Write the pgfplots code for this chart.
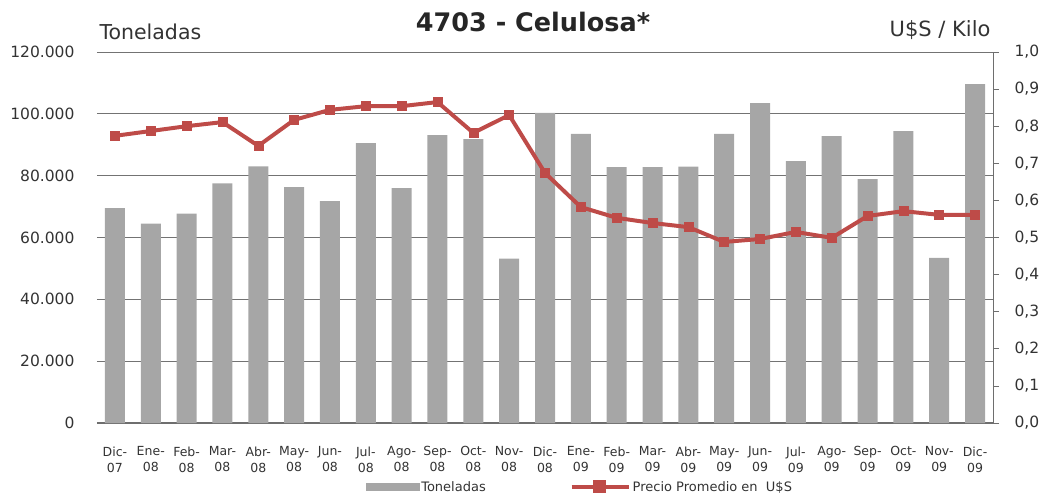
\documentclass[border=0pt]{standalone}
\usepackage{pgfplots}
\pgfplotsset{compat=1.18}
\usepackage{fontspec}
\setmainfont{DejaVu Sans}
\definecolor{barc}{RGB}{166,166,166}
\definecolor{linec}{RGB}{190,75,72}
\definecolor{gridc}{RGB}{115,115,115}
\definecolor{axc}{RGB}{110,110,110}
\begin{document}
\begin{tikzpicture}
\begin{axis}[
  at={(0,0)}, anchor=south west,
  scale only axis, width=896bp, height=371bp,
  xmin=-0.5, xmax=24.5, ymin=0, ymax=120000,
  ybar, bar width=20bp,
  axis x line*=bottom, axis y line*=left,
  x axis line style={draw=axc, line width=1.2pt, -},
  y axis line style={draw=none},
  ytick={0,20000,40000,60000,80000,100000,120000},
  scaled y ticks=false,
  /pgf/number format/assume math mode=true,
  /pgf/number format/fixed,
  /pgf/number format/1000 sep={.},
  ymajorgrids, grid style={draw=gridc, line width=0.9pt},
  major tick length=0pt,
  tick label style={font=\fontsize{15.5bp}{18bp}\selectfont, text=black!80},
  yticklabel style={xshift=-19bp},
  xtick={0,...,24},
  xticklabel style={font=\fontsize{12.5bp}{16bp}\selectfont, align=center, text=black!80, yshift=-20bp},
  xticklabels={{Dic-\\07},{Ene-\\08},{Feb-\\08},{Mar-\\08},{Abr-\\08},{May-\\08},{Jun-\\08},{Jul-\\08},{Ago-\\08},{Sep-\\08},{Oct-\\08},{Nov-\\08},{Dic-\\08},{Ene-\\09},{Feb-\\09},{Mar-\\09},{Abr-\\09},{May-\\09},{Jun-\\09},{Jul-\\09},{Ago-\\09},{Sep-\\09},{Oct-\\09},{Nov-\\09},{Dic-\\09}},
]
\addplot[fill=barc, draw=none] coordinates {
(0,69500) (1,64500) (2,67700) (3,77500) (4,83000) (5,76300) (6,71800) (7,90500) (8,76000) (9,93100) (10,91800) (11,53200) (12,100300) (13,93500) (14,82800) (15,82800) (16,82900) (17,93500) (18,103500) (19,84700) (20,92800) (21,78900) (22,94400) (23,53400) (24,109600)};
\end{axis}
\begin{axis}[
  at={(0,0)}, anchor=south west,
  scale only axis, width=896bp, height=371bp,
  xmin=-0.5, xmax=24.5, ymin=0, ymax=1,
  axis x line=none, axis y line*=right,
  y axis line style={draw=axc, line width=1pt, -},
  ytick={0,0.1,0.2,0.3,0.4,0.5,0.6,0.7,0.8,0.9,1.0},
  /pgf/number format/assume math mode=true,
  /pgf/number format/fixed,
  /pgf/number format/fixed zerofill,
  /pgf/number format/precision=1,
  /pgf/number format/use comma,
  tick align=outside, major tick length=6bp,
  tick style={draw=axc, line width=0.8pt},
  tick label style={font=\fontsize{15.5bp}{18bp}\selectfont, text=black!80},
  yticklabel style={xshift=12bp},
  legend columns=2,
  legend style={at={(axis description cs:0.539,-0.172)}, anchor=center, draw=none, fill=none,
    font=\fontsize{13bp}{15bp}\selectfont, text=black!80,
    /tikz/every even column/.append style={column sep=82bp}},
]
\addlegendimage{legend image code/.code={\fill[barc] (0bp,-3.5bp) rectangle (53bp,3.5bp);}}
\addlegendentry{Toneladas}
\addplot[color=linec, line width=4pt, mark=square*, mark size=4.5bp, mark options={fill=linec, draw=linec, line width=0.5pt},
  legend image code/.code={\draw[linec, line width=4pt] (0bp,0) -- (57bp,0); \fill[linec] (23bp,-4.5bp) rectangle (32bp,4.5bp);}] coordinates {
(0,0.774) (1,0.787) (2,0.800) (3,0.811) (4,0.747) (5,0.817) (6,0.844) (7,0.854) (8,0.854) (9,0.865) (10,0.782) (11,0.830) (12,0.674) (13,0.582) (14,0.553) (15,0.539) (16,0.528) (17,0.488) (18,0.496) (19,0.515) (20,0.499) (21,0.558) (22,0.571) (23,0.561) (24,0.561)};
\addlegendentry{Precio Promedio en\ \ U\$S}
\end{axis}
\node[font=\bfseries\fontsize{25.5bp}{30bp}\selectfont, text=black!85, anchor=base] at (436bp,391bp) {4703 - Celulosa*};
\node[font=\fontsize{20.5bp}{24bp}\selectfont, text=black!80, anchor=base west] at (-1bp,383bp) {Toneladas};
\node[font=\fontsize{21bp}{24bp}\selectfont, text=black!80, anchor=base east] at (897bp,386bp) {U\$S / Kilo};
\path[use as bounding box] (-97bp,-74bp) rectangle (947bp,423bp);
\end{tikzpicture}
\end{document}
